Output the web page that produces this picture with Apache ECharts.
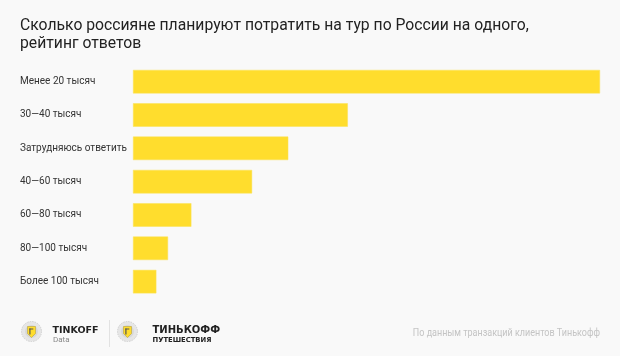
<!DOCTYPE html>
<html><head><meta charset="utf-8">
<script src="https://cdn.jsdelivr.net/npm/echarts@6/dist/echarts.min.js"></script>
<style>html,body{margin:0;padding:0;background:#f9f9f9}#c{width:620px;height:356px}</style>
</head><body><div id="c"></div>
<script>
const categories = ['Менее 20 тысяч','30—40 тысяч','Затрудняюсь ответить','40—60 тысяч','60—80 тысяч','80—100 тысяч','Более 100 тысяч'];
const values = [40, 18.4, 13.3, 10.2, 5.0, 3.0, 2.0];
const titleLines = ['Сколько россияне планируют потратить на тур по России на одного,', 'рейтинг ответов'];
const sourceText = 'По данным транзакций клиентов Тинькофф';

function emblem(cx, cy) {
  return [
    {type:'circle', shape:{cx:cx, cy:cy, r:10}, style:{fill:'#e6e6e6', stroke:'#cfcfcf', lineWidth:1, lineDash:[1.5,1]}},
    {type:'circle', shape:{cx:cx, cy:cy, r:6.5}, style:{fill:'#d8d8d8'}},
    {type:'polygon', shape:{points:[[cx-4,cy-5],[cx+4,cy-5],[cx+4,cy+2],[cx,cy+6],[cx-4,cy+2]]}, style:{fill:'#ffdd2d', stroke:'#b8a23a', lineWidth:0.6}},
    {type:'rect', shape:{x:cx-2.2, y:cy-3, width:1.2, height:6}, style:{fill:'#555'}},
    {type:'rect', shape:{x:cx-2.2, y:cy-3, width:4, height:1}, style:{fill:'#555'}}
  ];
}
function txt(x, y, text, font, fill, align, sx) {
  return {type:'text', x:x, y:y, scaleX:sx || 1, style:{text:text, font:font, fill:fill, align:align || 'left', verticalAlign:'middle'}};
}

const chart = echarts.init(document.getElementById('c'), null, {renderer:'canvas'});
chart.setOption({
  backgroundColor:'#f9f9f9',
  animation:false,
  grid:{left:133, right:20, top:65, bottom:57.7, containLabel:false},
  xAxis:{type:'value', min:0, max:40, show:false},
  yAxis:{
    type:'category', data:categories, inverse:true,
    axisLine:{show:false}, axisTick:{show:false},
    axisLabel:{margin:113, align:'left', fontFamily:'Roboto', fontSize:10, color:'#333'}
  },
  series:[{
    type:'bar', data:values, barWidth:23.5,
    itemStyle:{color:'#ffdd2d', borderColor:'#fbe257', borderWidth:0.5}
  }],
  graphic:[
    txt(20, 25.5, titleLines[0], '17px Roboto', '#222', 'left', 0.925),
    txt(20, 43.5, titleLines[1], '17px Roboto', '#222', 'left', 0.925),
    ...emblem(31.5, 331.5),
    txt(52.5, 330.5, 'TINKOFF', 'bold 9.5px "DejaVu Sans"', '#222'),
    txt(53, 340, 'Data', '8px Roboto', '#888'),
    {type:'rect', shape:{x:109, y:320, width:1, height:27}, style:{fill:'#e2e2e2'}},
    ...emblem(127.5, 331.5),
    txt(152.5, 330.5, 'ТИНЬКОФФ', 'bold 10px "DejaVu Sans"', '#222'),
    txt(152.5, 340.5, 'ПУТЕШЕСТВИЯ', 'bold 6.8px "DejaVu Sans"', '#222'),
    txt(600, 333.5, sourceText, '10px Roboto', '#c4c4c4', 'right', 0.9)
  ]
});
</script></body></html>
